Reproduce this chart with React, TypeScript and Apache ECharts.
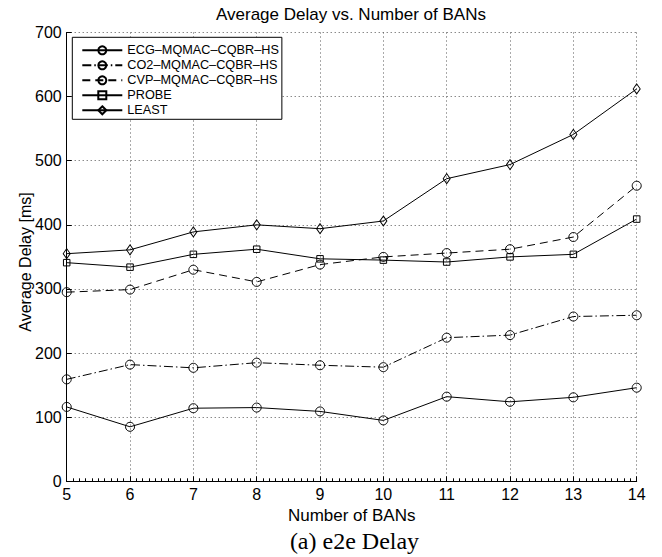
import React, { useEffect, useRef } from "react";
import * as echarts from "echarts";

const xValues = [5, 6, 7, 8, 9, 10, 11, 12, 13, 14];
const ecg = [116, 85, 114, 115, 109, 95, 132, 124, 131, 146];
const co2 = [159, 182, 177, 185, 181, 178, 224, 228, 257, 259];
const cvp = [295, 299, 330, 311, 338, 350, 356, 362, 381, 461];
const probe = [341, 334, 354, 362, 347, 345, 342, 350, 354, 409];
const least = [355, 361, 389, 400, 394, 406, 472, 494, 541, 612];

const seriesNames = [
  "ECG–MQMAC–CQBR–HS",
  "CO2–MQMAC–CQBR–HS",
  "CVP–MQMAC–CQBR–HS",
  "PROBE",
  "LEAST",
];

const FONT = "'Liberation Sans', Arial, Helvetica, sans-serif";

function pairs(ys: number[]) {
  return xValues.map((x, i) => [x, ys[i]]);
}

export default function App() {
  const ref = useRef<HTMLDivElement>(null);
  useEffect(() => {
    if (!ref.current) return;
    const chart = echarts.init(ref.current, undefined, { renderer: "svg" });
    const mk = (
      name: string,
      data: number[],
      symbol: string,
      symbolSize: number | number[],
      dash: any
    ) => ({
      name,
      type: "line",
      data: pairs(data),
      symbol,
      symbolSize,
      showSymbol: true,
      lineStyle: { color: "#000", width: 1, type: dash },
      itemStyle: { color: "rgba(255,255,255,0)", borderColor: "#000", borderWidth: 1 },
      emphasis: { disabled: true },
      z: 3,
    });
    chart.setOption({
      animation: false,
      backgroundColor: "#fff",
      textStyle: { fontFamily: FONT },
      grid: { left: 66.7, right: 25.3, top: 32.5, bottom: 75.7, containLabel: false },
      legend: {
        left: 72.3,
        top: 37.3,
        orient: "vertical",
        backgroundColor: "#fff",
        borderColor: "#000",
        borderWidth: 1,
        borderRadius: 0,
        padding: [6.5, 3, 2.5, 9],
        itemWidth: 40,
        itemHeight: 10,
        itemGap: 2,
        textStyle: { fontSize: 12.7, color: "#000", fontFamily: FONT },
        data: seriesNames,
        selectedMode: false,
      },
      xAxis: {
        type: "value",
        min: 5,
        max: 14,
        interval: 1,
        name: "Number of BANs",
        nameLocation: "middle",
        nameGap: 23,
        nameTextStyle: { fontSize: 17, color: "#000", fontFamily: FONT },
        axisLine: { show: true, onZero: false, lineStyle: { color: "#000", width: 1 } },
        axisTick: { show: true, inside: true, length: 5, lineStyle: { color: "#000" } },
        minorTick: { show: true, splitNumber: 10, length: 3, lineStyle: { color: "#000", width: 1 } },
        axisLabel: { fontSize: 16, color: "#000", margin: 5, fontFamily: FONT },
        splitLine: { show: true, lineStyle: { color: "#555", width: 1, type: [1, 3] } },
      },
      yAxis: {
        type: "value",
        min: 0,
        max: 700,
        interval: 100,
        axisLine: { show: true, onZero: false, lineStyle: { color: "#000", width: 1 } },
        axisTick: { show: true, inside: true, length: 5, lineStyle: { color: "#000" } },
        axisLabel: { fontSize: 16, color: "#000", margin: 5, fontFamily: FONT },
        splitLine: { show: true, lineStyle: { color: "#555", width: 1, type: [1, 3] } },
      },
      graphic: [
        {
          type: "text",
          left: 352 - 136,
          top: 6,
          style: {
            text: "Average Delay vs. Number of BANs",
            fontSize: 17,
            fontFamily: FONT,
            fill: "#000",
          },
        },
        {
          type: "text",
          x: 25,
          y: 262,
          rotation: Math.PI / 2,
          style: {
            text: "Average Delay [ms]",
            fontSize: 16,
            fontFamily: FONT,
            fill: "#000",
            align: "center",
            verticalAlign: "middle",
          },
        },
        {
          type: "text",
          x: 354.5,
          y: 541,
          style: {
            text: "(a) e2e Delay",
            fontSize: 24,
            fontFamily: "'Liberation Serif', 'Times New Roman', serif",
            fill: "#000",
            align: "center",
            verticalAlign: "middle",
          },
        },
      ],
      series: [
        mk(seriesNames[0], ecg, "circle", 9, "solid"),
        mk(seriesNames[1], co2, "circle", 9, [9, 3, 1.5, 3]),
        mk(seriesNames[2], cvp, "circle", 9, [8, 5]),
        mk(seriesNames[3], probe, "rect", 6.5, "solid"),
        mk(seriesNames[4], least, "diamond", [7, 10], "solid"),
      ],
    });
    return () => chart.dispose();
  }, []);
  return (
    <div
      ref={ref}
      style={{ position: "fixed", left: 0, top: 0, width: 662, height: 557 }}
    />
  );
}
